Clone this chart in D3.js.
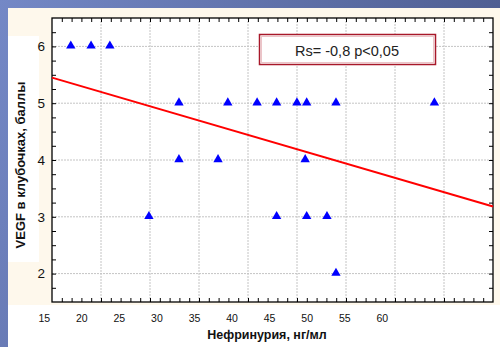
<!DOCTYPE html>
<html>
<head>
<meta charset="utf-8">
<script src="https://cdn.jsdelivr.net/npm/d3@7"></script>
<style>
body { margin: 0; }
svg { display: block; font-family: Arial, "Liberation Sans", sans-serif; }
</style>
</head>
<body>
<svg id="svg" width="500" height="347"></svg>
<script>
// nephrinuria (ng/ml) and VEGF score for each patient
var nephrin = [18.6, 21.3, 23.8, 33.0, 39.5, 43.4, 46.0, 48.7, 50.0, 53.9, 67.0, 33.0, 38.2, 49.8, 29.0, 46.0, 50.0, 52.7, 53.9];
var vegf    = [6, 6, 6, 5, 5, 5, 5, 5, 5, 5, 5, 4, 4, 4, 3, 3, 3, 3, 2];

// regression line ends
var fitX = [16.1, 74.8];
var fitY = [5.45, 3.18];

var xTickLabels = [15, 20, 25, 30, 35, 40, 45, 50, 55, 60];
var yTickLabels = [2, 3, 4, 5, 6];

var statText = "Rs= -0,8 p<0,05";
var xTitle = "Нефринурия, нг/мл";
var yTitle = "VEGF в клубочках, баллы";

var svg = d3.select("#svg");

// plot box (window.top is read-only, hence the prefixes)
var pLeft = 52, pTop = 18, pRight = 493, pBottom = 302;

var x = d3.scaleLinear().domain([16.1, 74.8]).range([pLeft, pRight]);
var y = d3.scaleLinear().domain([1.5, 6.5]).range([pBottom, pTop]);

// slide background
var grad = svg.append("defs").append("linearGradient")
    .attr("id", "bg").attr("x1", 0).attr("y1", 0).attr("x2", 1).attr("y2", 0.3);
grad.append("stop").attr("offset", "0%").attr("stop-color", "#7488c6");
grad.append("stop").attr("offset", "100%").attr("stop-color", "#4c5b8e");

svg.append("rect").attr("width", 500).attr("height", 347).attr("fill", "url(#bg)");
svg.append("rect").attr("x", 8).attr("y", 8).attr("width", 492).attr("height", 297).attr("fill", "#fef8ec");
svg.append("rect").attr("x", 8).attr("y", 305).attr("width", 492).attr("height", 42).attr("fill", "#ffffff");
svg.append("rect").attr("x", 8).attr("y", 36).attr("width", 31).attr("height", 226).attr("fill", "#ffffff");

// plot area
svg.append("rect")
    .attr("x", pLeft).attr("y", pTop)
    .attr("width", pRight - pLeft).attr("height", pBottom - pTop)
    .attr("fill", "#ffffff");

var xGrid = d3.range(1, 9).map(function (i) { return x.invert(pLeft + (pRight - pLeft) * i / 9); });
var xMinor = d3.range(1, 45).map(function (i) { return x.invert(pLeft + (pRight - pLeft) * i / 45); });
var yMinor = d3.range(1.75, 6.5, 0.25);

var grid = svg.append("g")
    .attr("stroke", "#c4c4c4")
    .attr("stroke-width", 1)
    .attr("stroke-dasharray", "2,1");

grid.selectAll(".vg")
    .data(xGrid)
    .enter()
    .append("line")
    .attr("x1", function (d) { return x(d); })
    .attr("x2", function (d) { return x(d); })
    .attr("y1", pTop)
    .attr("y2", pBottom);

grid.selectAll(".hg")
    .data(yTickLabels)
    .enter()
    .append("line")
    .attr("x1", pLeft)
    .attr("x2", pRight)
    .attr("y1", function (d) { return y(d); })
    .attr("y2", function (d) { return y(d); });

// frame ticks pointing inward
function noLabels(g) {
    g.select(".domain").remove();
    g.selectAll("line").attr("stroke", "#000");
}

svg.append("g").attr("transform", "translate(0," + pBottom + ")")
    .call(d3.axisBottom(x).tickValues(xMinor).tickFormat("").tickSizeInner(-4))
    .call(noLabels);
svg.append("g").attr("transform", "translate(0," + pTop + ")")
    .call(d3.axisTop(x).tickValues(xMinor).tickFormat("").tickSizeInner(-4))
    .call(noLabels);
svg.append("g").attr("transform", "translate(" + pLeft + ",0)")
    .call(d3.axisLeft(y).tickValues(yMinor).tickFormat("").tickSizeInner(-4))
    .call(noLabels);
svg.append("g").attr("transform", "translate(" + pRight + ",0)")
    .call(d3.axisRight(y).tickValues(yMinor).tickFormat("").tickSizeInner(-4))
    .call(noLabels);

svg.append("rect")
    .attr("x", pLeft).attr("y", pTop)
    .attr("width", pRight - pLeft).attr("height", pBottom - pTop)
    .attr("fill", "none")
    .attr("stroke", "#000")
    .attr("stroke-width", 1.3);

// tick labels
var yAxis = svg.append("g").attr("transform", "translate(" + pLeft + ",0)")
    .call(d3.axisLeft(y).tickValues(yTickLabels).tickFormat(d3.format("d")).tickSize(0).tickPadding(7));
yAxis.select(".domain").remove();
yAxis.selectAll("text").attr("font-size", 13.5).attr("font-family", "Arial, 'Liberation Sans', sans-serif").attr("fill", "#111");

var xAxis = svg.append("g").attr("transform", "translate(0," + pBottom + ")")
    .call(d3.axisBottom(x).tickValues(xTickLabels).tickFormat(d3.format("d")).tickSize(0).tickPadding(13));
xAxis.select(".domain").remove();
xAxis.selectAll("text").attr("font-size", 10.5).attr("font-family", "Arial, 'Liberation Sans', sans-serif").attr("fill", "#111");

// regression line
svg.append("line")
    .attr("x1", x(fitX[0])).attr("y1", y(fitY[0]))
    .attr("x2", x(fitX[1])).attr("y2", y(fitY[1]))
    .attr("stroke", "#ff0000")
    .attr("stroke-width", 2);

// points
svg.selectAll(".pt")
    .data(nephrin)
    .enter()
    .append("path")
    .attr("d", d3.symbol().type(d3.symbolTriangle).size(38))
    .attr("transform", function (d, i) { return "translate(" + x(d) + "," + (y(vegf[i]) - 0.5) + ")"; })
    .attr("fill", "#0000ff");

// statistic box
svg.append("rect")
    .attr("x", 259.5).attr("y", 34.5).attr("width", 176).attr("height", 30)
    .attr("fill", "#ffffff")
    .attr("stroke", "#a8182a")
    .attr("stroke-width", 1.5);
svg.append("rect")
    .attr("x", 261.5).attr("y", 36.5).attr("width", 172).attr("height", 26)
    .attr("fill", "none")
    .attr("stroke", "#ecc4c8")
    .attr("stroke-width", 1);
svg.append("text")
    .attr("x", 347).attr("y", 56)
    .attr("text-anchor", "middle")
    .attr("font-size", 14.5)
    .attr("fill", "#222")
    .text(statText);

// axis titles
svg.append("text")
    .attr("x", 267).attr("y", 338.5)
    .attr("text-anchor", "middle")
    .attr("font-size", 12.5)
    .attr("font-weight", "bold")
    .attr("fill", "#111")
    .text(xTitle);

svg.append("text")
    .attr("transform", "translate(25,165) rotate(-90)")
    .attr("text-anchor", "middle")
    .attr("font-size", 13)
    .attr("font-weight", "bold")
    .attr("fill", "#111")
    .text(yTitle);
</script>
</body>
</html>
